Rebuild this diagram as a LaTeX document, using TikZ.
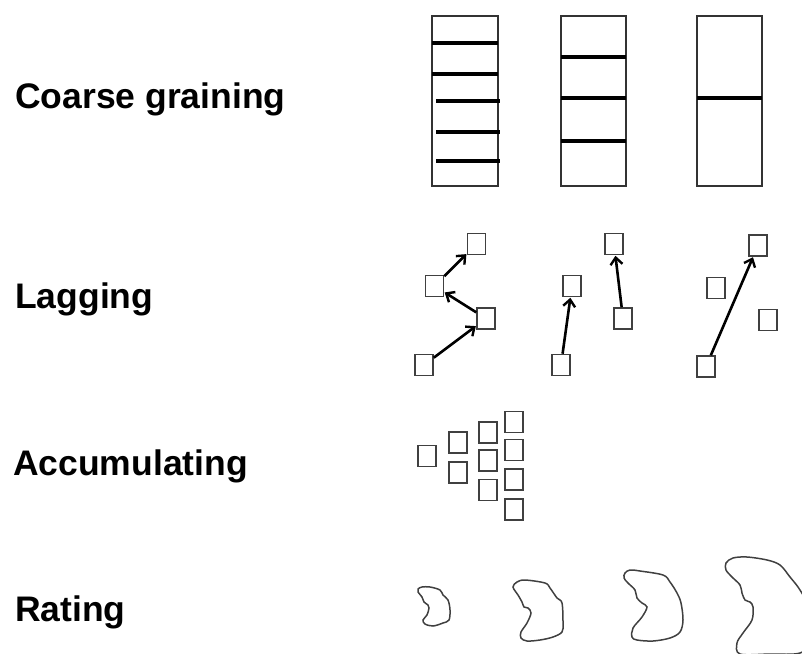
\documentclass[tikz,border=0pt]{standalone}
\usepackage{fontspec}
\setmainfont{Liberation Sans}
\usetikzlibrary{arrows.meta}
\begin{document}
\begin{tikzpicture}[x=1pt,y=-1pt,
  lbl/.style={anchor=base west,inner sep=0pt,font=\fontsize{35.5}{40}\selectfont\bfseries},
  col/.style={draw=black!80,line width=1.2pt},
  bar/.style={line width=3.6pt,black},
  sq/.style={draw=black!75,line width=1.5pt,minimum width=18pt,minimum height=21pt,inner sep=0pt},
  arr/.style={line width=2.6pt,-{Straight Barb[length=7pt,width=12pt,line width=2.4pt]},shorten >=0.5pt},
  blob/.style={draw=black!75,line width=1.5pt}]
\useasboundingbox (0,0) rectangle (802,653);
\clip (0,0) rectangle (802,653);
% labels
\node[lbl] (t1) at (15,108) {Coarse graining};
\node[lbl] (t2) at (15,308) {Lagging};
\node[lbl] (t3) at (13,475) {Accumulating};
\node[lbl] (t4) at (15,621) {Rating};
% coarse graining
\draw[col] (432,16) rectangle (498,186);
\draw[bar] (432,43) -- (498,43);
\draw[bar] (432,74) -- (498,74);
\draw[bar] (436,101) -- (500,101);
\draw[bar] (436,132) -- (500,132);
\draw[bar] (436,161) -- (500,161);
\draw[col] (561,16) rectangle (626,186);
\draw[bar] (561,57) -- (626,57);
\draw[bar] (561,98) -- (626,98);
\draw[bar] (561,141) -- (626,141);
\draw[col] (697,16) rectangle (762,186);
\draw[bar] (697,98) -- (762,98);
% lagging
\node[sq] (a) at (424,365) {};
\node[sq] (b) at (486,318.5) {};
\node[sq] (c) at (434.5,286) {};
\node[sq] (d) at (476.5,244) {};
\draw[arr] (a) -- (b);
\draw[arr] (b) -- (c);
\draw[arr] (c) -- (d);
\node[sq] (e) at (561,365) {};
\node[sq] (f) at (572,286) {};
\node[sq] (g) at (623,318.5) {};
\node[sq] (h) at (614,244) {};
\draw[arr] (e) -- (f);
\draw[arr] (g) -- (h);
\node[sq] (i) at (706,366.5) {};
\node[sq] (j) at (758,245.5) {};
\node[sq] (k) at (716,288) {};
\node[sq] (l) at (768,320) {};
\draw[arr] (i) -- (j);
% accumulating
\node[sq] (s1) at (427,456) {};
\node[sq] (s2) at (458,442.5) {};
\node[sq] (s3) at (458,472.5) {};
\node[sq] (s4) at (488,432.5) {};
\node[sq] (s5) at (488,460.5) {};
\node[sq] (s6) at (488,490) {};
\node[sq] (s7) at (514,422) {};
\node[sq] (s8) at (514,450) {};
\node[sq] (s9) at (514,479.5) {};
\node[sq] (s10) at (514,509.5) {};
% rating
\draw[blob] plot[smooth cycle,tension=0.55] coordinates {(418,589) (422,587) (430,587) (440,590) (443,595) (448,600) (450,610) (449,620) (443,623) (433,626) (425,624) (423,620) (427,615) (429,608) (428,605) (424,602) (422,597) (418,592)};
\draw[blob] plot[smooth cycle,tension=0.55] coordinates {(513,587) (517,582) (525,580) (545,583) (550,588) (557,598) (562,603) (563,623) (562,632) (553,637) (540,640) (527,641) (521,638) (521,632) (527,623) (531,613) (528,608) (524,607) (522,602) (518,595)};
\draw[blob] plot[smooth cycle,tension=0.55] coordinates {(625,573) (630,570) (640,571) (663,575) (670,582) (677,593) (681,603) (683,620) (680,632) (670,638) (653,641) (637,640) (632,637) (633,628) (642,617) (647,607) (642,603) (637,598) (635,590) (628,583) (624,578)};
\draw[blob] plot[smooth cycle,tension=0.55] coordinates {(726,563) (733,558) (747,557) (767,560) (780,565) (790,577) (800,590) (810,610) (814,640) (800,653) (770,654) (740,654) (737,643) (743,633) (752,620) (753,607) (750,602) (745,600) (742,593) (740,585) (732,577) (726,570)};
\end{tikzpicture}
\end{document}
